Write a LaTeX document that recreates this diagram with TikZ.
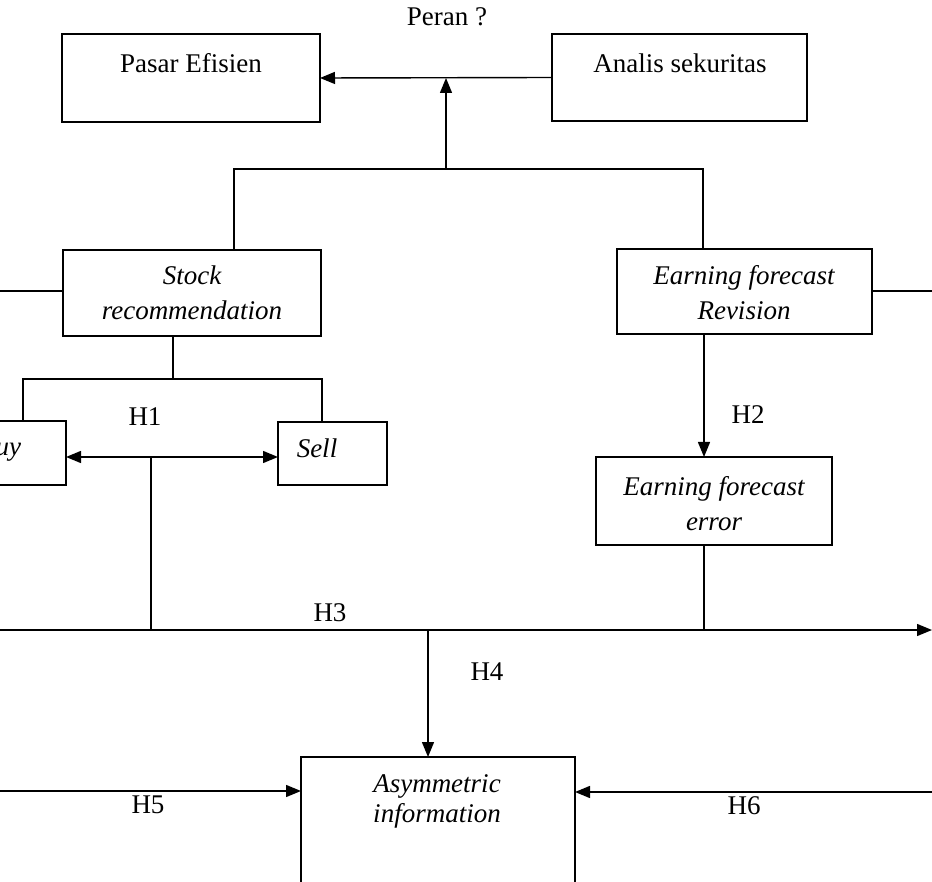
\documentclass[tikz,border=0pt]{standalone}
\usepackage{fontspec}
\setmainfont{Liberation Serif}
\usetikzlibrary{arrows.meta}
\begin{document}
\begin{tikzpicture}[x=1pt,y=-1pt,
  box/.style={draw, line width=1.7pt, inner sep=0pt, outer sep=0pt},
  txt/.style={font=\fontsize{27}{35}\selectfont, inner sep=0pt, align=center},
  itx/.style={font=\fontsize{27}{35}\selectfont\itshape, inner sep=0pt, align=center},
  ln/.style={line width=1.4pt},
  arr/.style={ln, -{Triangle[length=15pt,width=12pt]}},
  darr/.style={ln, {Triangle[length=15pt,width=12pt]}-{Triangle[length=15pt,width=12pt]}},
]
\useasboundingbox (0,0) rectangle (932,882);
\clip (0,0) rectangle (932,882);

% boxes
\node[box, minimum width=258pt, minimum height=88pt] (pasar) at (191,78) {};
\node[box, minimum width=255pt, minimum height=87pt] (analis) at (679.5,77.5) {};
\node[box, minimum width=258pt, minimum height=86pt] (stock) at (192,293) {};
\node[box, minimum width=255pt, minimum height=85pt] (efr) at (744.5,291.5) {};
\node[box, minimum width=126pt, minimum height=64pt] (buy) at (3,453) {};
\node[box, minimum width=109pt, minimum height=63pt] (sell) at (332.5,453.5) {};
\node[box, minimum width=236pt, minimum height=88pt] (efe) at (714,501) {};
\node[box, minimum width=274pt, minimum height=143pt] (asym) at (438,828.5) {};

% texts
\node[txt] (tperan) at (447,17) {Peran ?};
\node[txt] (tpasar) at (191,63) {Pasar Efisien};
\node[txt] (tanalis) at (680,63) {Analis sekuritas};
\node[itx] (tstock) at (192,293) {Stock\\recommendation};
\node[itx] (tefr) at (744,293) {Earning forecast\\Revision};
\node[itx] (tbuy) at (0,450) {Buy};
\node[itx] (tsell) at (317,448) {Sell};
\node[itx] (tefe) at (714,504) {Earning forecast\\error};
\node[itx, font=\fontsize{27}{30}\selectfont\itshape] (tasym) at (437,801) {Asymmetric\\information};
\node[txt] (th1) at (145,417) {H1};
\node[txt] (th2) at (748,415) {H2};
\node[txt] (th3) at (330,613) {H3};
\node[txt] (th4) at (487,672) {H4};
\node[txt] (th5) at (148,805) {H5};
\node[txt] (th6) at (744,806) {H6};

% connector points
\coordinate (top) at (446,169);
\coordinate (tl) at (234,169);
\coordinate (tr) at (703,169);
\coordinate (le) at (0,291);
\coordinate (re) at (932,291);
\coordinate (sb) at (173,379);
\coordinate (bl) at (23,379);
\coordinate (br) at (322,379);
\coordinate (h1) at (151,457);
\coordinate (h2) at (704,400);
\coordinate (h3a) at (151,630);
\coordinate (h3l) at (0,630);
\coordinate (h3r) at (932,630);
\coordinate (h4) at (428,630);
\coordinate (h5) at (0,791);
\coordinate (h6) at (932,792);

% connectors
\draw[arr] (analis.west) -- (pasar.east);
\draw[arr] (top) -- (top |- pasar.east);
\draw[ln] (tl |- stock.north) -- (tl) -- (tr) -- (tr |- efr.north);
\draw[ln] (le) -- (le -| stock.west);
\draw[ln] (efr.east |- re) -- (re);
\draw[ln] (sb |- stock.south) -- (sb);
\draw[ln] (bl |- buy.north) -- (bl) -- (br) -- (br |- sell.north);
\draw[darr] (h1 -| buy.east) -- (h1 -| sell.west);
\draw[ln] (h1) -- (h3a);
\draw[arr] (h2 |- efr.south) -- (h2 |- efe.north);
\draw[ln] (h2 |- efe.south) -- (h2 |- h3a);
\draw[arr] (h3l) -- (h3r);
\draw[arr] (h4) -- (h4 |- asym.north);
\draw[arr] (h5) -- (h5 -| asym.west);
\draw[arr] (h6) -- (h6 -| asym.east);
\end{tikzpicture}
\end{document}
